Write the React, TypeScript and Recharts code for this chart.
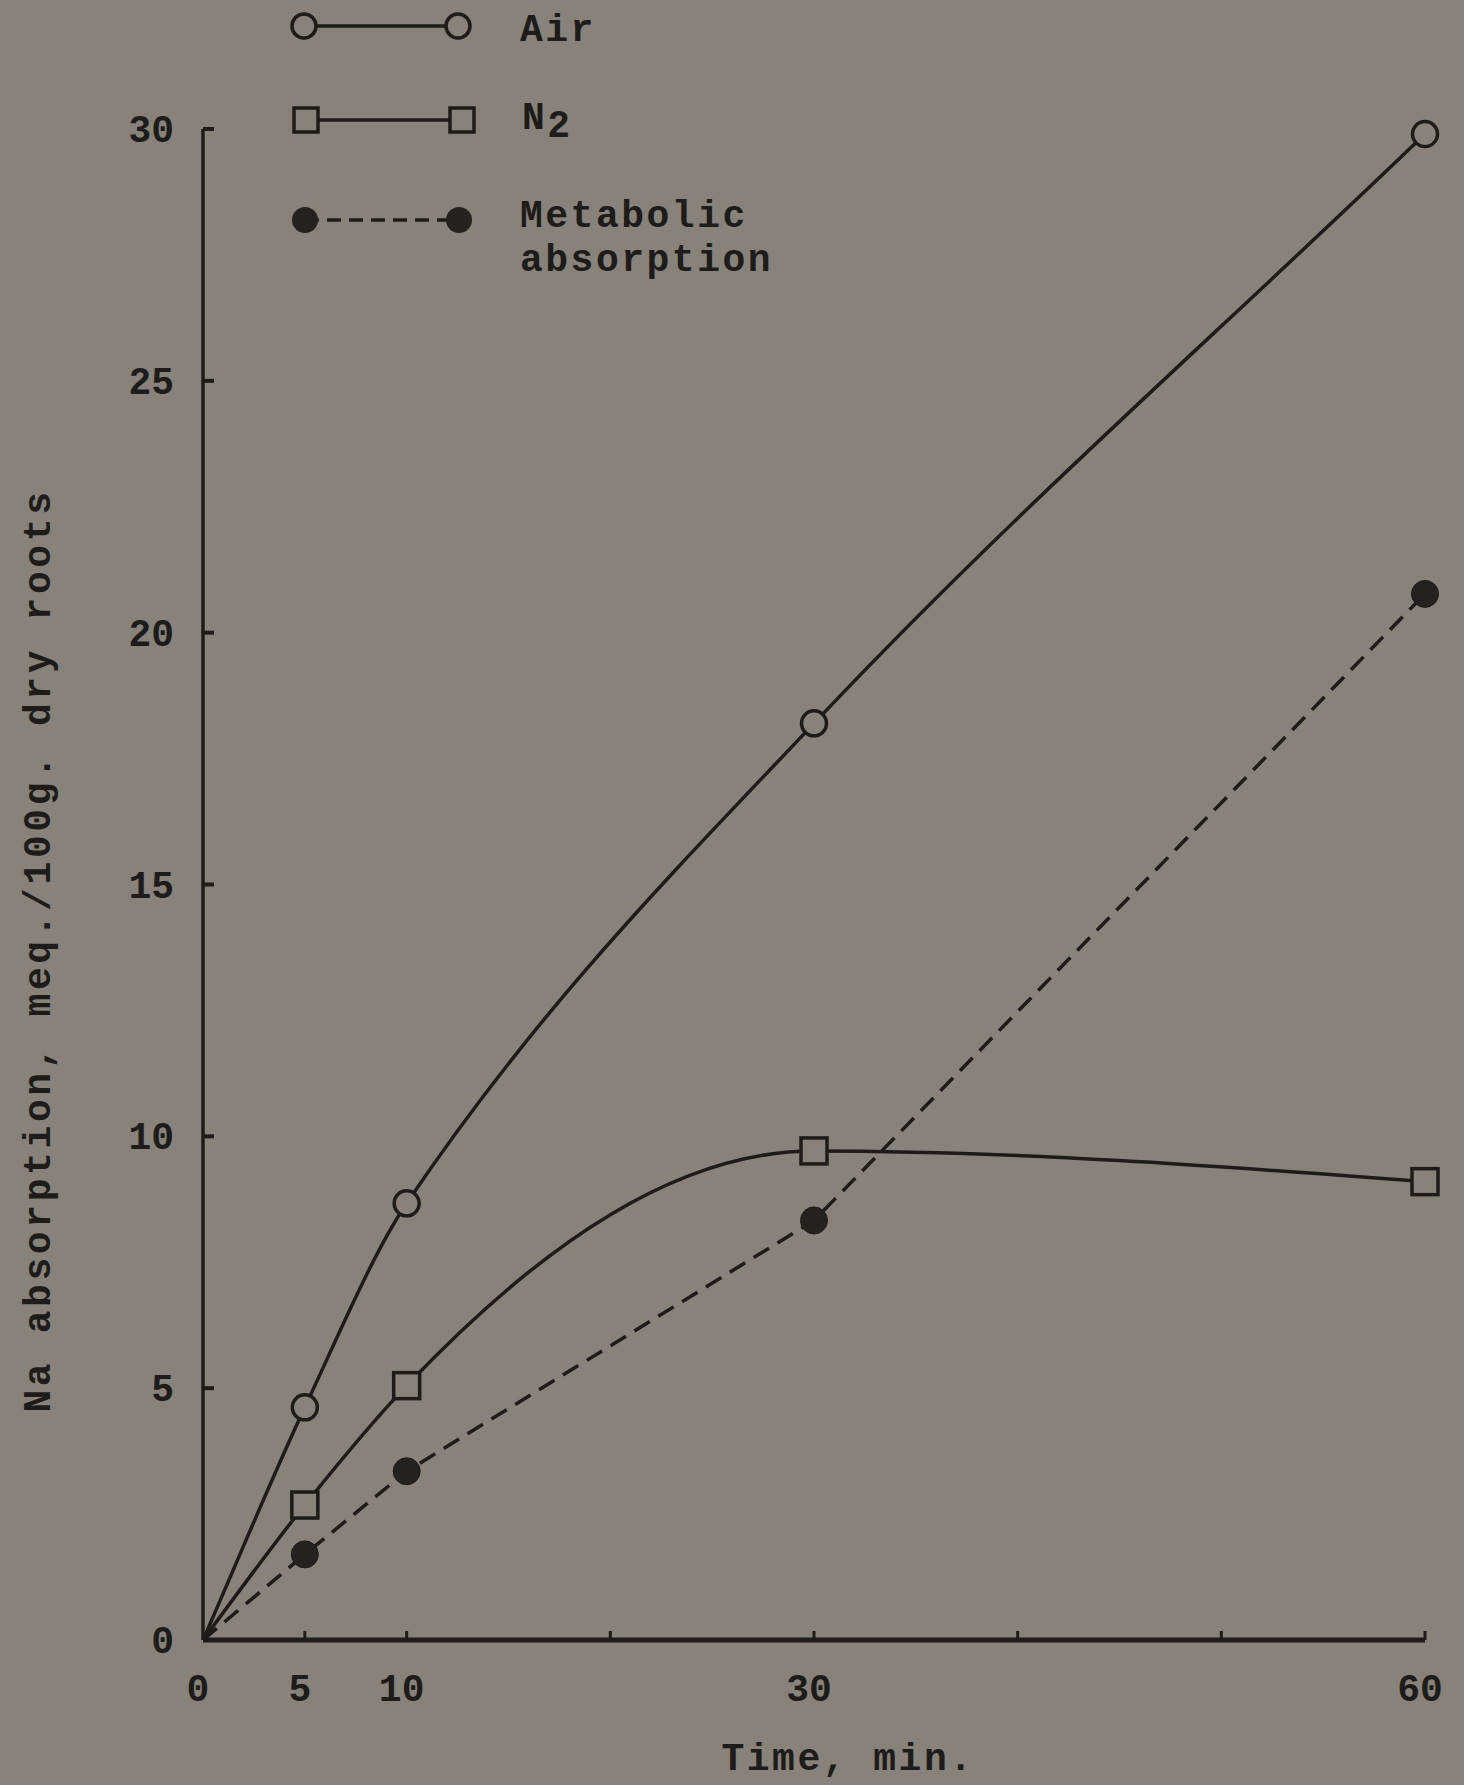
import React from 'react';
import { LineChart, Line, XAxis, YAxis, Legend } from 'recharts';

// values (time in min, Na absorption meq./100g dry roots)
const times = [0, 5, 10, 30, 60];
const airValues = [0, 4.62, 8.67, 18.2, 29.9];
const n2Values = [0, 2.68, 5.05, 9.71, 9.1];
const metabolicValues = [0, 1.7, 3.35, 8.33, 20.77];

const xTicks = [0, 5, 10, 20, 30, 40, 50, 60];
const xTickLabels = [0, 5, 10, 30, 60];
const yTicks = [0, 5, 10, 15, 20, 25, 30];

const data = times.map((t, i) => ({
  time: t,
  air: airValues[i],
  n2: n2Values[i],
  metabolic: metabolicValues[i],
}));

const BG = '#87827a';
const INK = '#1d1c1b';
const FONT = '"Liberation Mono", "DejaVu Sans Mono", monospace';

// smooth curve through the points, tangents from harmonic mean of neighbouring slopes
const smoothCurve = (context: any) => {
  let pts: number[][] = [];
  return {
    areaStart() {},
    areaEnd() {},
    lineStart() {
      pts = [];
    },
    point(x: number, y: number) {
      pts.push([+x, +y]);
    },
    lineEnd() {
      const n = pts.length;
      if (!n) return;
      context.moveTo(pts[0][0], pts[0][1]);
      if (n === 1) return;
      const s: number[] = [];
      for (let i = 0; i < n - 1; i++) {
        s.push((pts[i + 1][1] - pts[i][1]) / (pts[i + 1][0] - pts[i][0]));
      }
      const m: number[] = new Array(n);
      m[0] = s[0];
      m[n - 1] = s[n - 2];
      for (let i = 1; i < n - 1; i++) {
        m[i] = s[i - 1] * s[i] > 0 ? (2 * s[i - 1] * s[i]) / (s[i - 1] + s[i]) : 0;
      }
      for (let i = 0; i < n - 1; i++) {
        const h = (pts[i + 1][0] - pts[i][0]) / 3;
        context.bezierCurveTo(
          pts[i][0] + h,
          pts[i][1] + h * m[i],
          pts[i + 1][0] - h,
          pts[i + 1][1] - h * m[i + 1],
          pts[i + 1][0],
          pts[i + 1][1]
        );
      }
    },
  };
};

const XTick = ({ x, y, payload }: any) => (
  <g>
    {payload.value !== 0 && (
      <line x1={x} y1={y} x2={x} y2={y - 9} stroke={INK} strokeWidth={3} />
    )}
    {xTickLabels.includes(payload.value) && (
      <text x={x - 5} y={y + 61} textAnchor="middle" fill={INK} fontFamily={FONT} fontSize={38} fontWeight="bold">
        {payload.value}
      </text>
    )}
  </g>
);

const YTick = ({ x, y, payload }: any) => (
  <g>
    <line x1={x} y1={y} x2={x + 11} y2={y} stroke={INK} strokeWidth={4} />
    <text x={x - 29} y={y + 13} textAnchor="end" fill={INK} fontFamily={FONT} fontSize={38} fontWeight="bold">
      {payload.value}
    </text>
  </g>
);

const makeDot = (shape: string) => (props: any) => {
  const { cx, cy, index, payload } = props;
  const key = `${shape}-${index}`;
  if (cx == null || cy == null || payload.time === 0) return <g key={key} />;
  if (shape === 'square') {
    return <rect key={key} x={cx - 13} y={cy - 13} width={26} height={26} fill={BG} stroke={INK} strokeWidth={3.5} />;
  }
  if (shape === 'filled') {
    return <circle key={key} cx={cx} cy={cy} r={13.5} fill="#232220" stroke={INK} strokeWidth={1} />;
  }
  return <circle key={key} cx={cx} cy={cy} r={12.5} fill={BG} stroke={INK} strokeWidth={3.5} />;
};

const textStyle = { fill: INK, fontFamily: FONT, fontSize: 38, fontWeight: 'bold' as const, letterSpacing: 2.5 };

const LegendBox = () => (
  <svg width={800} height={300} style={{ display: 'block' }}>
    <line x1={304} y1={26} x2={458} y2={26} stroke={INK} strokeWidth={3.5} />
    <circle cx={304} cy={26} r={12} fill={BG} stroke={INK} strokeWidth={3.5} />
    <circle cx={458} cy={26} r={12} fill={BG} stroke={INK} strokeWidth={3.5} />
    <text x={520} y={41} {...textStyle}>Air</text>

    <line x1={306} y1={120} x2={462} y2={120} stroke={INK} strokeWidth={3.5} />
    <rect x={294} y={108} width={24} height={24} fill={BG} stroke={INK} strokeWidth={3.5} />
    <rect x={450} y={108} width={24} height={24} fill={BG} stroke={INK} strokeWidth={3.5} />
    <text x={522} y={129} {...textStyle}>
      N<tspan dy={8}>2</tspan>
    </text>

    <line x1={305} y1={220} x2={459} y2={220} stroke={INK} strokeWidth={3.5} strokeDasharray="14 8" />
    <circle cx={305} cy={220} r={13} fill="#232220" />
    <circle cx={459} cy={220} r={13} fill="#232220" />
    <text x={520} y={227} {...textStyle}>Metabolic</text>
    <text x={520} y={271} {...textStyle}>absorption</text>
  </svg>
);

const App = () => {
  return (
    <div style={{ position: 'absolute', left: 0, top: 0, width: 1464, height: 1785, background: BG }}>
      <LineChart width={1464} height={1785} data={data} margin={{ top: 129, right: 39, bottom: 85, left: 143 }}>
        <XAxis
          type="number"
          dataKey="time"
          domain={[0, 60]}
          ticks={xTicks}
          interval={0}
          height={60}
          tickSize={0}
          tickMargin={0}
          tickLine={false}
          tick={XTick}
          axisLine={{ stroke: INK, strokeWidth: 5 }}
          label={(props: any) => {
            const vb = props.viewBox || { x: 203, y: 1640, width: 1222 };
            return (
              <text x={vb.x + vb.width / 2 + 34} y={1770} textAnchor="middle" {...textStyle}>
                Time, min.
              </text>
            );
          }}
        />
        <YAxis
          type="number"
          domain={[0, 30]}
          ticks={yTicks}
          interval={0}
          width={60}
          tickSize={0}
          tickMargin={0}
          tickLine={false}
          tick={YTick}
          axisLine={{ stroke: INK, strokeWidth: 3.5 }}
          label={(props: any) => {
            const vb = props.viewBox || { y: 129, height: 1511 };
            const cy = vb.y + vb.height / 2 + 66;
            return (
              <text
                x={50}
                y={cy}
                transform={`rotate(-90, 50, ${cy})`}
                textAnchor="middle"
                {...textStyle}
                letterSpacing={3.6}
              >
                Na absorption, meq./100g. dry roots
              </text>
            );
          }}
        />
        <Legend
          layout="horizontal"
          verticalAlign="middle"
          align="center"
          content={() => <LegendBox />}
          wrapperStyle={{ position: 'absolute', left: 0, top: 0, width: 800, height: 300 }}
        />
        <Line
          type="linear"
          dataKey="metabolic"
          stroke={INK}
          strokeWidth={3.5}
          strokeDasharray="18 10"
          dot={makeDot('filled')}
          activeDot={false}
          isAnimationActive={false}
        />
        <Line
          type="monotone"
          dataKey="n2"
          stroke={INK}
          strokeWidth={3.5}
          dot={makeDot('square')}
          activeDot={false}
          isAnimationActive={false}
        />
        <Line
          type={smoothCurve as any}
          dataKey="air"
          stroke={INK}
          strokeWidth={3.5}
          dot={makeDot('circle')}
          activeDot={false}
          isAnimationActive={false}
        />
      </LineChart>
    </div>
  );
};

export default App;
